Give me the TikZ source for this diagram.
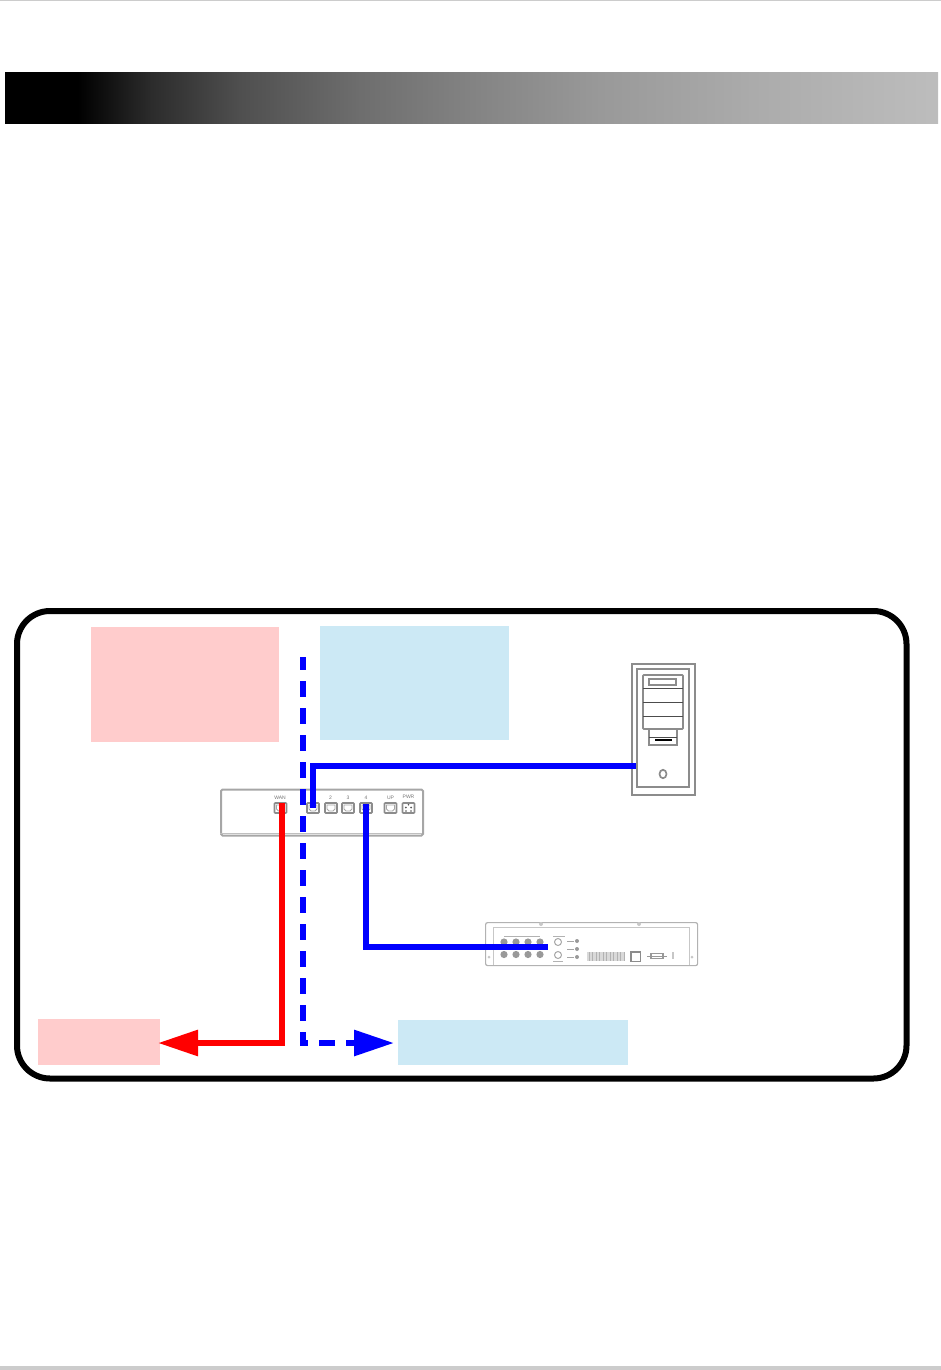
\documentclass[tikz,border=0pt]{standalone}
\usepackage{fontspec}
\setmainfont{Liberation Sans}
\usetikzlibrary{arrows.meta}
\pgfdeclarehorizontalshading{headershade}{100bp}{rgb(0bp)=(0,0,0); rgb(28.9bp)=(0,0,0); rgb(32.8bp)=(.17,.17,.17); rgb(37.6bp)=(.31,.31,.31); rgb(44bp)=(.43,.43,.43); rgb(50.5bp)=(.52,.52,.52); rgb(56.9bp)=(.6,.6,.6); rgb(65bp)=(.67,.67,.67); rgb(75bp)=(.74,.74,.74); rgb(100bp)=(.74,.74,.74)}
\definecolor{pinkbox}{HTML}{FFCCCC}
\definecolor{bluebox}{HTML}{CCE9F5}
\definecolor{netblue}{HTML}{0000FF}
\definecolor{netred}{HTML}{FF0000}
\definecolor{devline}{HTML}{8C8C8C}
\tikzset{
  pinkfill/.style={fill=pinkbox,draw=none,inner sep=0pt,minimum width=#1},
  bluefill/.style={fill=bluebox,draw=none,inner sep=0pt,minimum width=#1},
  frameline/.style={draw=black,line width=6,rounded corners=33},
  wire/.style={line width=6,line join=miter},
  headtip/.style={-{Triangle[length=40,width=25,sep=-2]}},
  dev/.style={draw=devline,line width=1},
  devthick/.style={draw=devline,line width=1.7},
  portbox/.style={draw=devline,line width=1.6,rounded corners=.8,inner sep=0pt,minimum width=12,minimum height=10,fill=white},
  portnotch/.style={draw=black!35,line width=.9},
  tinylabel/.style={inner sep=0pt,font=\fontsize{5}{5}\selectfont,text=black!55},
}
\begin{document}
\begin{tikzpicture}[x=1pt,y=-1pt]
\useasboundingbox (0,0) rectangle (941,1370);
% page rules and header band
\fill[black!20] (0,0) rectangle (941,1);
\fill[black!20] (0,1366) rectangle (941,1370);
\shade[shading=headershade] (5,73) rectangle (938,124);
% frame
\path[frameline] (17,611) rectangle (906.5,1078.5);
% coloured boxes
\node[pinkfill=188,minimum height=115,anchor=north west] (pinktop) at (91,627) {};
\node[bluefill=189,minimum height=114,anchor=north west] (bluetop) at (320,626) {};
\node[pinkfill=122,minimum height=46,anchor=north west] (pinkbottom) at (38,1019) {};
\node[bluefill=230,minimum height=45,anchor=north west] (bluebottom) at (398,1020) {};
% router
\node[draw=black!35,line width=2,rounded corners=1.5,inner sep=0pt,minimum width=202,minimum height=46,anchor=north west] (router) at (220,788.5) {};
\draw[black!25,line width=1.5] (220,833.5) -- (422,833.5);
\node[portbox] (portwan) at (280.5,808) {};
\node[portbox] (portone) at (313,808) {};
\node[portbox] (porttwo) at (331,808) {};
\node[portbox] (portthree) at (348,808) {};
\node[portbox] (portfour) at (366,808) {};
\node[portbox] (portup) at (390.5,808) {};
\node[portbox] (portpwr) at (408.5,808) {};
\foreach \nx in {280.5,313,331,348,366,390.5} {
  \draw[portnotch] (\nx-4,805) -- (\nx+4,805) -- (\nx+4,809) -- (\nx+2,811) -- (\nx-2,811) -- (\nx-4,809) -- cycle;
}
\fill[black!65] (405.8,807.5) circle (1) (411.2,807.5) circle (1) (406,811) circle (.9) (411,811) circle (.9) (408.5,804.8) circle (.9);
\node[tinylabel] (lblwan) at (280,797.5) {WAN};
\node[tinylabel] (lbltwo) at (330.5,797.5) {2};
\node[tinylabel] (lblthree) at (348,797.5) {3};
\node[tinylabel] (lblfour) at (366,797.5) {4};
\node[tinylabel] (lblup) at (390.5,797.5) {UP};
\node[tinylabel] (lblpwr) at (408.5,797) {PWR};
% computer
\node[devthick,inner sep=0pt,minimum width=63,minimum height=131,anchor=north west] (pc) at (631,663) {};
\draw[devthick] (637,669) rectangle (689,787);
\draw[devthick,rounded corners=.8] (643,675) rectangle (683,729);
\draw[devthick] (649,679) rectangle (676,685);
\draw[dev,draw=black!70] (643,688) -- (683,688) (643,702) -- (683,702) (643,716) -- (683,716);
\draw[devthick] (649,729) rectangle (677,745);
\draw[dev,draw=black!70] (649,737) -- (677,737);
\draw[black,line width=1.3] (655,740) -- (672,740);
\draw[devthick] (663,774) ellipse (3.5 and 4.2);
% recorder
\node[draw=black!30,line width=1.2,rounded corners=2,inner sep=0pt,minimum width=212,minimum height=43,anchor=north west] (dvr) at (485,922) {};
\draw[black!22,line width=.8] (493,965) -- (493,927) -- (689,927) -- (689,965);
\foreach \px in {504,516,528,540} {
  \fill[black!40] (\px,942) circle (3.6);
  \fill[black!40] (\px,954.5) circle (3.6);
}
\draw[black!30,line width=.7] (504,936) -- (540,936);
\draw[black!35,line width=1] (558,942) circle (3.5) (558,955) circle (3.5);
\draw[black!30,line width=.8] (553,961) -- (563,961) (553,936) -- (565,936);
\foreach \py in {941,949,957} {
  \fill[black!40] (577,\py) circle (2);
  \draw[black!35,line width=1] (567,\py) -- (574,\py);
}
\fill[black!15] (587,952) rectangle (625,961);
\foreach \gx in {589,592.5,...,624} { \draw[black!30,line width=.6] (\gx,952) -- (\gx,961); }
\draw[black!45,line width=1.3] (631,952) rectangle (640.5,961.5);
\draw[black!40,line width=1.3] (651,953.5) rectangle (663,958.5);
\draw[black!40,line width=1] (647,956) -- (667,956);
\draw[black!22,line width=1.2] (673,952) -- (673,959);
\fill[black!22] (541,924) circle (2) (639,924) circle (2) (489,957) circle (1.5) (692,957) circle (1.5);
% connector anchors
\coordinate (wanpin) at (282,803);
\coordinate (wanelbow) at (282,1043);
\coordinate (onepin) at (313,808);
\coordinate (oneelbow) at (313,766);
\coordinate (pcport) at (636,766);
\coordinate (fourpin) at (366,804);
\coordinate (fourelbow) at (366,947);
\coordinate (dvrport) at (548,947);
\coordinate (dashstart) at (303,657);
\coordinate (dashelbow) at (303,1043);
\coordinate (redtip) at (160,1043);
\coordinate (bluetip) at (392,1043);
% connectors
\draw[wire,draw=netred,headtip] (wanpin) -- (wanelbow) -- (redtip);
\draw[wire,draw=netblue] (onepin) -- (oneelbow) -- (pcport);
\draw[wire,draw=netblue] (fourpin) -- (fourelbow) -- (dvrport);
\draw[wire,draw=netblue,dash pattern=on 16 off 11,dash phase=3,headtip] (dashstart) -- (dashelbow) -- (bluetip);
\end{tikzpicture}
\end{document}
